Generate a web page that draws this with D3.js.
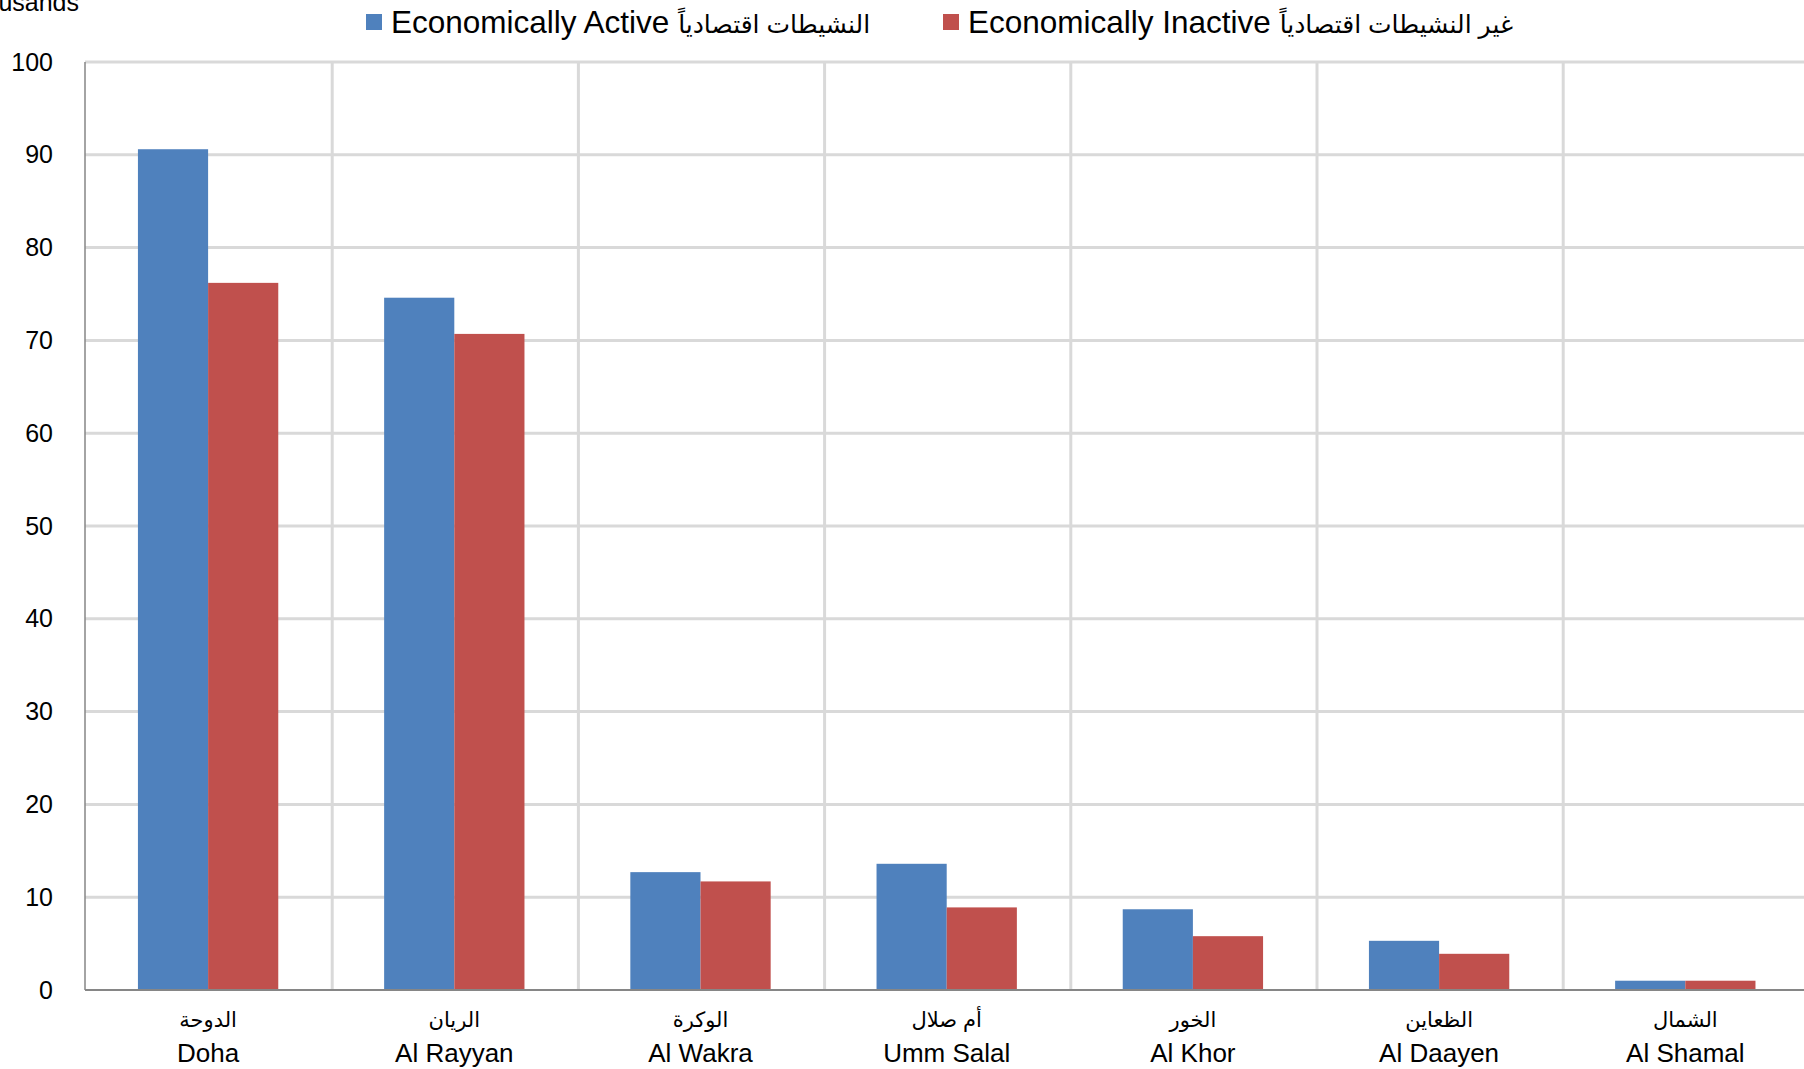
<!DOCTYPE html>
<html><head><meta charset="utf-8">
<script src="https://cdn.jsdelivr.net/npm/d3@7"></script>
<style>
html,body{margin:0;padding:0;background:#fff;overflow:hidden}
text{font-family:"Liberation Sans",Arial,"DejaVu Sans",sans-serif;fill:#000}
</style></head>
<body>
<svg id="chart" width="1804" height="1069"></svg>
<script>
const categoriesEn = ["Doha","Al Rayyan","Al Wakra","Umm Salal","Al Khor","Al Daayen","Al Shamal"];
const categoriesAr = ["الدوحة","الريان","الوكرة","أم صلال","الخور","الظعاين","الشمال"];
const seriesNamesEn = ["Economically Active","Economically Inactive"];
const seriesNamesAr = ["النشيطات اقتصادياً","غير النشيطات اقتصادياً"];
const activeValues = [90.6, 74.6, 12.7, 13.6, 8.7, 5.3, 1.0];
const inactiveValues = [76.2, 70.7, 11.7, 8.9, 5.8, 3.9, 1.0];
const yTicks = [0,10,20,30,40,50,60,70,80,90,100];
const axisTitle = "Thousands";
const colors = ["#4f81bd","#c0504d"];

(function(){
const svg = d3.select("#chart");
const mLeft = 85, mTop = 62, mBottom = 990, step = 246.2;
const mRight = mLeft + categoriesEn.length * step;

const y = d3.scaleLinear().domain([0,100]).range([mBottom, mTop]);
const x0 = d3.scaleBand().domain(categoriesEn).range([mLeft, mRight]).paddingInner(0.43).paddingOuter(0.215);
const xGrid = d3.scaleBand().domain(categoriesEn).range([mLeft, mRight]).padding(0);
const x1 = d3.scaleBand().domain([0,1]).range([0, x0.bandwidth()]);

svg.append("g").selectAll("line").data(yTicks.filter(d=>d>0)).join("line")
  .attr("x1", mLeft).attr("x2", mRight).attr("y1", d=>y(d)).attr("y2", d=>y(d))
  .attr("stroke","#d9d9d9").attr("stroke-width",3);
svg.append("g").selectAll("line").data(categoriesEn.slice(1)).join("line")
  .attr("x1", d=>xGrid(d)+1).attr("x2", d=>xGrid(d)+1).attr("y1", mTop).attr("y2", mBottom)
  .attr("stroke","#d9d9d9").attr("stroke-width",3);

const data = categoriesEn.map((c,i)=>({c, vals:[activeValues[i], inactiveValues[i]]}));
const g = svg.append("g").selectAll("g").data(data).join("g")
  .attr("transform", d=>`translate(${x0(d.c)},0)`);
g.selectAll("rect").data(d=>d.vals.map((v,k)=>({v,k}))).join("rect")
  .attr("x", d=>x1(d.k)).attr("width", x1.bandwidth())
  .attr("y", d=>y(d.v)).attr("height", d=>mBottom - y(d.v))
  .attr("fill", d=>colors[d.k]);

svg.append("line").attr("x1",mLeft).attr("x2",mLeft).attr("y1",mTop).attr("y2",mBottom)
  .attr("stroke","#868686").attr("stroke-width",1.5);
svg.append("line").attr("x1",mLeft).attr("x2",mRight).attr("y1",mBottom).attr("y2",mBottom)
  .attr("stroke","#868686").attr("stroke-width",2);

const yAxis = d3.axisLeft(y).tickValues(yTicks).tickSize(0).tickPadding(32);
const ya = svg.append("g").attr("transform",`translate(${mLeft},0)`).call(yAxis);
ya.select(".domain").remove();
ya.selectAll("text").style("font-size","25px").style("font-family",'"Liberation Sans",Arial,sans-serif').attr("fill","#000");

svg.append("text").attr("x",79).attr("y",11).attr("text-anchor","end")
  .style("font-size","25px").text(axisTitle);

const cl = svg.append("g");
categoriesEn.forEach((c,i)=>{
  const cx = xGrid(c) + xGrid.bandwidth()/2;
  cl.append("text").attr("x",cx).attr("y",1027).attr("text-anchor","middle")
    .style("font-size","21px").text(categoriesAr[i]);
  cl.append("text").attr("x",cx).attr("y",1062).attr("text-anchor","middle")
    .style("font-size","26px").text(c);
});

const legendX = [366, 943];
seriesNamesEn.forEach((s,i)=>{
  svg.append("rect").attr("x",legendX[i]).attr("y",14).attr("width",16).attr("height",16).attr("fill",colors[i]);
  const t = svg.append("text").attr("x",legendX[i]+25).attr("y",33).style("font-size","31.5px");
  t.append("tspan").text(s + " ");
  t.append("tspan").style("font-size","25px").text(seriesNamesAr[i]);
});
})();
</script>
</body></html>
